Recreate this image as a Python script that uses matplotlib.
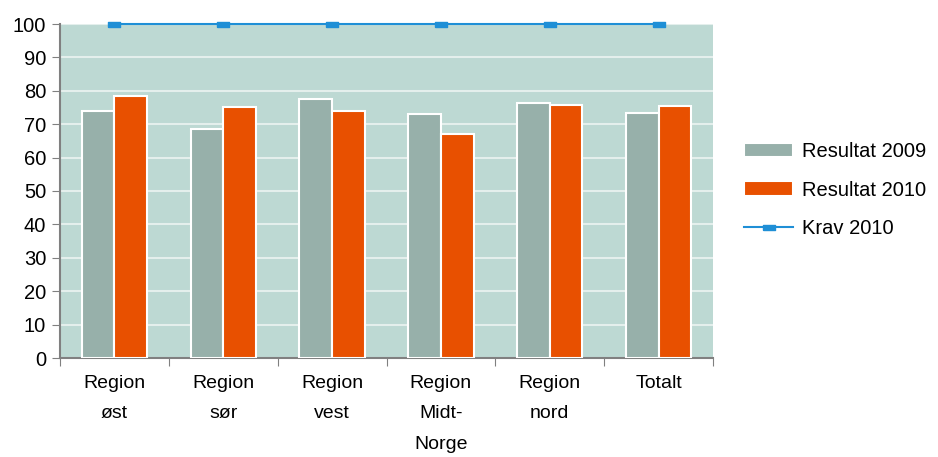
import matplotlib
matplotlib.use("Agg")
import matplotlib.pyplot as plt
import numpy as np

plt.rcParams['font.family'] = ['Liberation Sans', 'DejaVu Sans']

categories = ["Region\nøst", "Region\nsør", "Region\nvest", "Region\nMidt-\nNorge", "Region\nnord", "Totalt"]
res_2009 = [74, 68.5, 77.5, 73, 76.3, 73.5]
res_2010 = [78.3, 75.2, 74, 67, 75.8, 75.3]
krav_2010 = [100, 100, 100, 100, 100, 100]
yticks = [0, 10, 20, 30, 40, 50, 60, 70, 80, 90, 100]

fig = plt.figure(figsize=(9.38, 4.57), dpi=100)
ax = fig.add_axes([60/938, 1-358/457, (713-60)/938, (358-24)/457])
ax.set_facecolor('#bdd9d3')

x = np.arange(len(categories))
w = 0.3
rect = [(-1, -0.4), (1, -0.4), (1, 0.4), (-1, 0.4), (-1, -0.4)]
h1 = ax.bar(x - w/2, res_2009, w, color='#97b0aa', edgecolor='white', linewidth=1.5, label='Resultat 2009', zorder=3)
h2 = ax.bar(x + w/2, res_2010, w, color='#e85000', edgecolor='white', linewidth=1.5, label='Resultat 2010', zorder=3)
h3, = ax.plot(x, krav_2010, color='#1f8fd6', linewidth=1.5, marker=rect, markersize=9,
        markerfacecolor='#1f8fd6', markeredgecolor='#1f8fd6', label='Krav 2010', zorder=4, clip_on=False)

ax.set_xlim(-0.5, len(categories) - 0.5)
ax.set_ylim(0, 100)
ax.set_yticks(yticks)
ax.set_yticklabels([str(v) for v in yticks], fontsize=14.5)
ax.yaxis.grid(True, color='#e4efec', linewidth=1.5, zorder=0)
ax.set_axisbelow(True)

ax.set_xticks(np.arange(len(categories) + 1) - 0.5)
ax.set_xticklabels([])
ax.set_xticks(x, minor=True)
ax.set_xticklabels(categories, minor=True, fontsize=14, linespacing=2.05, va='top')
ax.tick_params(axis='x', which='minor', length=0, pad=12)
ax.tick_params(axis='x', which='major', length=6, color='#808080', direction='out')
ax.tick_params(axis='y', length=6, color='#808080', direction='out', pad=4)

for s in ['top', 'right']:
    ax.spines[s].set_visible(False)
for s in ['left', 'bottom']:
    ax.spines[s].set_color('#808080')
    ax.spines[s].set_linewidth(1.5)

leg = fig.legend([h1, h2, h3], ['Resultat 2009', 'Resultat 2010', 'Krav 2010'],
                 loc='center left', bbox_to_anchor=(728/938, 1-190/457), frameon=False,
                 fontsize=14.5, handlelength=2.45, labelspacing=0.95, handletextpad=0.4,
                 borderpad=0.3)

fig.savefig('out.png', dpi=100)
